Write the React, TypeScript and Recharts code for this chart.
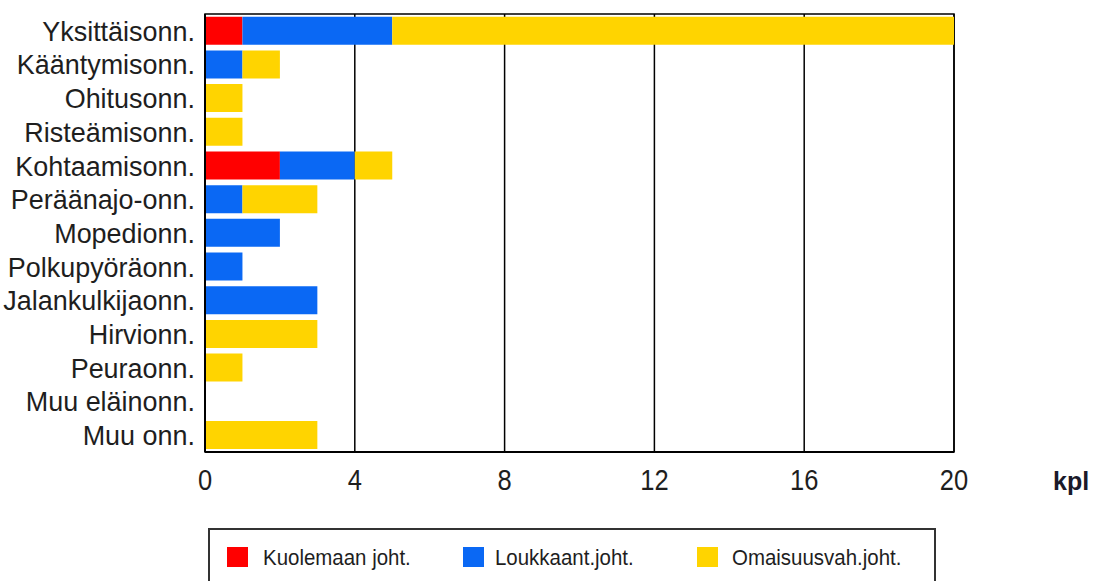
import { BarChart, Bar, XAxis, YAxis, CartesianGrid, ReferenceArea } from 'recharts';

const categories = [
  'Yksittäisonn.',
  'Kääntymisonn.',
  'Ohitusonn.',
  'Risteämisonn.',
  'Kohtaamisonn.',
  'Peräänajo-onn.',
  'Mopedionn.',
  'Polkupyöräonn.',
  'Jalankulkijaonn.',
  'Hirvionn.',
  'Peuraonn.',
  'Muu eläinonn.',
  'Muu onn.',
];

const kuolemaan = [1, 0, 0, 0, 2, 0, 0, 0, 0, 0, 0, 0, 0];
const loukkaant = [4, 1, 0, 0, 2, 1, 2, 1, 3, 0, 0, 0, 0];
const omaisuus = [15, 1, 1, 1, 1, 2, 0, 0, 0, 3, 1, 0, 3];

const xTicks = [0, 4, 8, 12, 16, 20];

const SERIES = [
  { key: 'kuolemaan', name: 'Kuolemaan joht.', color: '#ff0000' },
  { key: 'loukkaant', name: 'Loukkaant.joht.', color: '#0a68f4' },
  { key: 'omaisuus', name: 'Omaisuusvah.joht.', color: '#ffd400' },
];

const data = categories.map((name, i) => ({
  name,
  kuolemaan: kuolemaan[i],
  loukkaant: loukkaant[i],
  omaisuus: omaisuus[i],
}));

const FONT = 'Arial, "Liberation Sans", sans-serif';

function YTick({ x, y, payload }: any) {
  return (
    <text transform={`translate(${x - 10},${y}) scale(0.98,1)`} dy="0.36em" textAnchor="end" fontSize={27.5} fontFamily={FONT} fill="#1e1e1e">
      {payload.value}
    </text>
  );
}

function XTick({ x, y, payload }: any) {
  return (
    <text transform={`translate(${x},${y + 38}) scale(0.85,1)`} textAnchor="middle" fontSize={30} fontFamily={FONT} fill="#1e1e1e">
      {payload.value}
    </text>
  );
}

// legend item x positions (square left edge, text left edge)
const legendPos = [
  { sq: 227, tx: 263 },
  { sq: 463, tx: 495 },
  { sq: 697, tx: 732 },
];

export default function App() {
  return (
    <div style={{ position: 'absolute', left: 0, top: 0, width: 1093, height: 581, background: '#fff', overflow: 'hidden' }}>
      <BarChart
        width={1093}
        height={581}
        data={data}
        layout="vertical"
        margin={{ top: 14, right: 139, left: 0, bottom: 79 }}
        barCategoryGap="8%"
      >
        <CartesianGrid horizontal={false} stroke="#000" strokeWidth={1.5} />
        <XAxis
          type="number"
          domain={[0, 20]}
          ticks={xTicks}
          interval={0}
          height={50}
          tickSize={0}
          tickMargin={0}
          tickLine={false}
          axisLine={{ stroke: '#000', strokeWidth: 2 }}
          tick={<XTick />}
        />
        <YAxis
          type="category"
          dataKey="name"
          width={205}
          tickSize={0}
          tickMargin={0}
          tickLine={false}
          interval={0}
          axisLine={{ stroke: '#000', strokeWidth: 2 }}
          tick={<YTick />}
        />
        {SERIES.map((s) => (
          <Bar key={s.key} dataKey={s.key} name={s.name} stackId="a" fill={s.color} isAnimationActive={false} />
        ))}
        <ReferenceArea x1={0} x2={20} fill="none" stroke="#000" strokeWidth={1.5} ifOverflow="visible" />
      </BarChart>
      <svg width={1093} height={581} style={{ position: 'absolute', left: 0, top: 0, pointerEvents: 'none' }}>
        <text x={1053} y={490} fontSize={25} fontWeight="bold" fontFamily={FONT} fill="#1a1a2a">
          kpl
        </text>
        <rect x={209} y={529} width={726} height={70} fill="none" stroke="#333" strokeWidth={2} />
        {SERIES.map((s, i) => (
          <g key={s.key}>
            <rect x={legendPos[i].sq} y={547} width={21} height={20} fill={s.color} />
            <text transform={`translate(${legendPos[i].tx},565) scale(0.93,1)`} fontSize={22} fontFamily={FONT} fill="#1e1e1e">
              {s.name}
            </text>
          </g>
        ))}
      </svg>
    </div>
  );
}
